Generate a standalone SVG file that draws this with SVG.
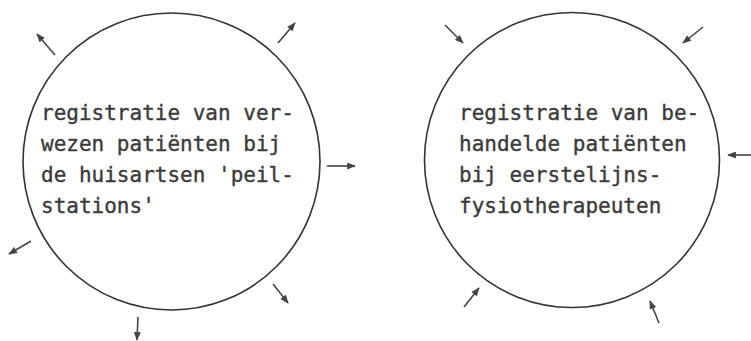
<svg xmlns="http://www.w3.org/2000/svg" width="751" height="341" viewBox="0 0 751 341">
<style>
.c{fill:none;stroke:#333;stroke-width:1.6}
.t{font-family:"DejaVu Sans Mono","Liberation Mono",monospace;font-size:21px;fill:#3a3a3a;stroke:#3a3a3a;stroke-width:0.35}
.a{stroke:#444;stroke-width:1.6;fill:none;marker-end:url(#ah)}
</style>
<defs>
<marker id="ah" viewBox="0 0 10 8" refX="9" refY="4" markerWidth="10" markerHeight="7" markerUnits="userSpaceOnUse" orient="auto">
<path d="M0,0 L10,4 L0,8 Z" fill="#444"/>
</marker>
</defs>
<rect width="751" height="341" fill="#fff"/>
<g id="node-huisartsen">
<circle class="c" cx="171.5" cy="161.5" r="148.5"/>
<text class="t" x="41" y="120">registratie van ver-</text>
<text class="t" x="41" y="151">wezen patiënten bij</text>
<text class="t" x="41" y="182">de huisartsen 'peil-</text>
<text class="t" x="41" y="213">stations'</text>
</g>
<g id="node-fysiotherapeuten">
<circle class="c" cx="572" cy="160" r="147.5"/>
<text class="t" x="459" y="120">registratie van be-</text>
<text class="t" x="459" y="151">handelde patiënten</text>
<text class="t" x="459" y="182">bij eerstelijns-</text>
<text class="t" x="459" y="213">fysiotherapeuten</text>
</g>
<g id="connectors">
<line class="a" x1="55" y1="55" x2="37" y2="34"/>
<line class="a" x1="278" y1="43" x2="295" y2="23"/>
<line class="a" x1="327" y1="166" x2="355" y2="166"/>
<line class="a" x1="31" y1="241" x2="9" y2="254"/>
<line class="a" x1="273" y1="284" x2="288" y2="303"/>
<line class="a" x1="138" y1="317" x2="137" y2="340"/>
<line class="a" x1="445" y1="25" x2="463" y2="43"/>
<line class="a" x1="703" y1="27" x2="683" y2="43"/>
<line class="a" x1="751" y1="155" x2="728" y2="155"/>
<line class="a" x1="464" y1="307" x2="479" y2="288"/>
<line class="a" x1="659" y1="323" x2="650" y2="301"/>
</g>
</svg>
